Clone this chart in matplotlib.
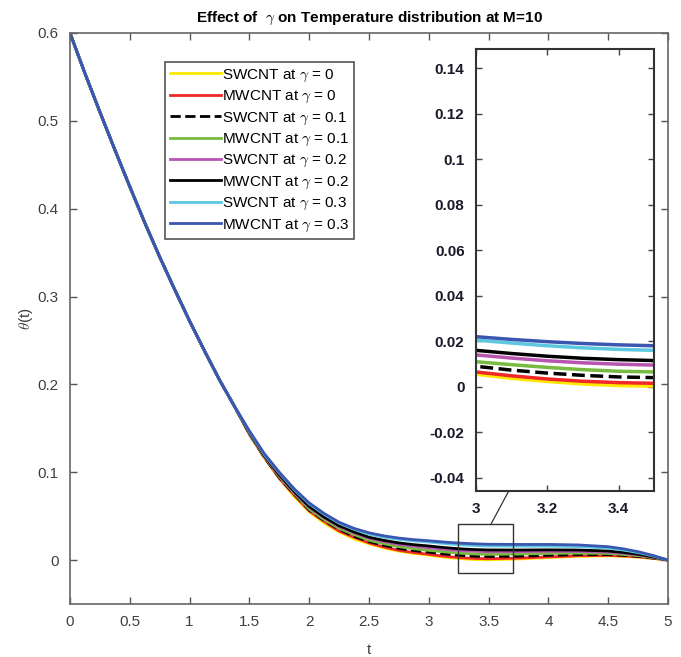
import numpy as np
import matplotlib
matplotlib.use("Agg")
import matplotlib.pyplot as plt
from matplotlib.patches import Rectangle, ConnectionPatch

plt.rcParams['font.family'] = ['Liberation Sans', 'DejaVu Sans']
plt.rcParams['mathtext.fontset'] = 'cm'

# shared early part of every curve (t = 0 .. 1.375)
t_head = [0, 0.125, 0.25, 0.375, 0.5, 0.625, 0.75, 0.875, 1.0, 1.125, 1.25, 1.375]
head = [0.6, 0.554, 0.51, 0.467, 0.425, 0.384, 0.345, 0.308, 0.272, 0.238, 0.205, 0.175]

# tail where the curves separate
t_tail = [1.5, 1.625, 1.75, 1.875, 2.0, 2.125, 2.25, 2.375, 2.5, 2.625, 2.75, 2.875,
          3.0, 3.1, 3.2, 3.3, 3.4, 3.5, 3.75, 4.0, 4.25, 4.5, 4.625, 4.75, 4.875, 5.0]

swcnt_g0 = [0.143, 0.116, 0.093, 0.072, 0.055, 0.042, 0.032, 0.024, 0.0185, 0.0138, 0.010, 0.0075,
            0.0055, 0.0037, 0.0023, 0.0012, 0.0005, 0.0003, 0.0012, 0.0028, 0.0042, 0.0047,
            0.0042, 0.0033, 0.0018, 0.0]
mwcnt_g0 = [0.143, 0.117, 0.093, 0.074, 0.056, 0.044, 0.033, 0.026, 0.0195, 0.0148, 0.011, 0.0085,
            0.0065, 0.0048, 0.0034, 0.0024, 0.0018, 0.0015, 0.0022, 0.0036, 0.0049, 0.0053,
            0.0047, 0.0037, 0.002, 0.0]
swcnt_g1 = [0.144, 0.117, 0.094, 0.075, 0.057, 0.045, 0.035, 0.027, 0.021, 0.0168, 0.0132, 0.0108,
            0.009, 0.0073, 0.006, 0.005, 0.0043, 0.004, 0.0044, 0.0054, 0.0062, 0.0062,
            0.0054, 0.0042, 0.0023, 0.0]
mwcnt_g1 = [0.144, 0.118, 0.095, 0.076, 0.058, 0.046, 0.036, 0.029, 0.0225, 0.0186, 0.0152, 0.0128,
            0.011, 0.0097, 0.0085, 0.0075, 0.0068, 0.0065, 0.0068, 0.0075, 0.0079, 0.0075,
            0.0064, 0.005, 0.0027, 0.0]
swcnt_g2 = [0.145, 0.118, 0.096, 0.077, 0.060, 0.048, 0.038, 0.031, 0.025, 0.021, 0.0178, 0.0157,
            0.014, 0.0126, 0.0114, 0.0105, 0.0099, 0.0095, 0.0096, 0.0099, 0.0099, 0.0091,
            0.0077, 0.0059, 0.0032, 0.0]
mwcnt_g2 = [0.145, 0.119, 0.097, 0.078, 0.061, 0.049, 0.039, 0.032, 0.026, 0.0224, 0.0195, 0.0175,
            0.016, 0.0146, 0.0134, 0.0125, 0.0119, 0.0115, 0.0114, 0.0116, 0.0114, 0.0103,
            0.0087, 0.0066, 0.0036, 0.0]
swcnt_g3 = [0.146, 0.120, 0.099, 0.080, 0.064, 0.052, 0.042, 0.035, 0.0295, 0.026, 0.0235, 0.0218,
            0.0205, 0.0192, 0.0180, 0.0171, 0.0164, 0.016, 0.0158, 0.0158, 0.0153, 0.0136,
            0.0114, 0.0085, 0.0046, 0.0]
mwcnt_g3 = [0.147, 0.121, 0.100, 0.081, 0.065, 0.053, 0.043, 0.036, 0.031, 0.0275, 0.025, 0.0232,
            0.022, 0.0208, 0.0198, 0.019, 0.0184, 0.018, 0.0178, 0.0178, 0.0172, 0.0152,
            0.0128, 0.0095, 0.0052, 0.0]

t = t_head + t_tail
series = [head + s for s in [swcnt_g0, mwcnt_g0, swcnt_g1, mwcnt_g1,
                             swcnt_g2, mwcnt_g2, swcnt_g3, mwcnt_g3]]
labels = [r'SWCNT at $\gamma$ = 0', r'MWCNT at $\gamma$ = 0',
          r'SWCNT at $\gamma$ = 0.1', r'MWCNT at $\gamma$ = 0.1',
          r'SWCNT at $\gamma$ = 0.2', r'MWCNT at $\gamma$ = 0.2',
          r'SWCNT at $\gamma$ = 0.3', r'MWCNT at $\gamma$ = 0.3']
colors = ['#FFE800', '#F02828', 'black', '#77BC40', '#B855B0', 'black', '#5CC8E0', '#3A56B0']
styles = ['-', '-', '--', '-', '-', '-', '-', '-']

fig = plt.figure(figsize=(6.81, 6.57), dpi=100)
ax = fig.add_axes([0.1028, 0.0807, 0.8782, 0.8691])

for y, lab, c, ls in zip(series, labels, colors, styles):
    ax.plot(t, y, color=c, ls=ls, lw=2, label=lab)

ax.set_xlim(0, 5)
ax.set_ylim(-0.05, 0.6)
ax.set_xticks(np.arange(0, 5.01, 0.5))
ax.set_xticklabels(['0', '0.5', '1', '1.5', '2', '2.5', '3', '3.5', '4', '4.5', '5'])
ax.set_yticks(np.arange(0, 0.61, 0.1))
ax.set_yticklabels(['0', '0.1', '0.2', '0.3', '0.4', '0.5', '0.6'])
ax.tick_params(direction='in', top=True, right=True, length=5, width=1,
               colors='#555555', labelcolor='#404040', labelsize=11, pad=8)
for s in ax.spines.values():
    s.set_color('#666666')
    s.set_linewidth(1.2)
ax.set_xlabel('t', fontsize=11, color='#404040', labelpad=10)
ax.set_ylabel(r'$\theta$(t)', fontsize=11, color='#404040', labelpad=2)
ax.set_title(r'Effect of  $\gamma$ on Temperature distribution at M=10',
             fontsize=11, fontweight='bold', pad=8)

leg = ax.legend(loc='upper left', bbox_to_anchor=(0.159, 0.949), fontsize=11,
                handlelength=3.3, labelspacing=0.33, handletextpad=0.05,
                borderpad=0.35, borderaxespad=0, fancybox=False, framealpha=1)
leg.get_frame().set_edgecolor('#555555')
leg.get_frame().set_linewidth(1.2)

# zoom rectangle on main axes
ax.add_patch(Rectangle((3.247, -0.015), 0.46, 0.056, fill=False,
                       ec='#333333', lw=1, zorder=5))

# inset
axi = fig.add_axes([0.6985, 0.2531, 0.2623, 0.6719])
for y, c, ls in zip(series, colors, styles):
    axi.plot(t, y, color=c, ls=ls, lw=2.5)
axi.set_xlim(3, 3.5)
axi.set_ylim(-0.0457, 0.1483)
axi.set_xticks([3, 3.2, 3.4])
axi.set_xticklabels(['3', '3.2', '3.4'])
axi.set_yticks(np.arange(-0.04, 0.141, 0.02))
axi.set_yticklabels(['-0.04', '-0.02', '0', '0.02', '0.04', '0.06', '0.08', '0.1', '0.12', '0.14'])
axi.tick_params(direction='in', top=True, right=True, length=4, width=1,
                colors='#444444', labelcolor='#1a1a2a', labelsize=11, pad=8)
for lab in axi.get_xticklabels() + axi.get_yticklabels():
    lab.set_fontweight('bold')
for s in axi.spines.values():
    s.set_color('#333333')
    s.set_linewidth(1.5)

con = ConnectionPatch(xyA=(3.52, 0.041), coordsA=ax.transData,
                      xyB=(3.093, -0.0457), coordsB=axi.transData,
                      color='#333333', lw=0.9)
fig.add_artist(con)

fig.savefig('out.png', dpi=100)
